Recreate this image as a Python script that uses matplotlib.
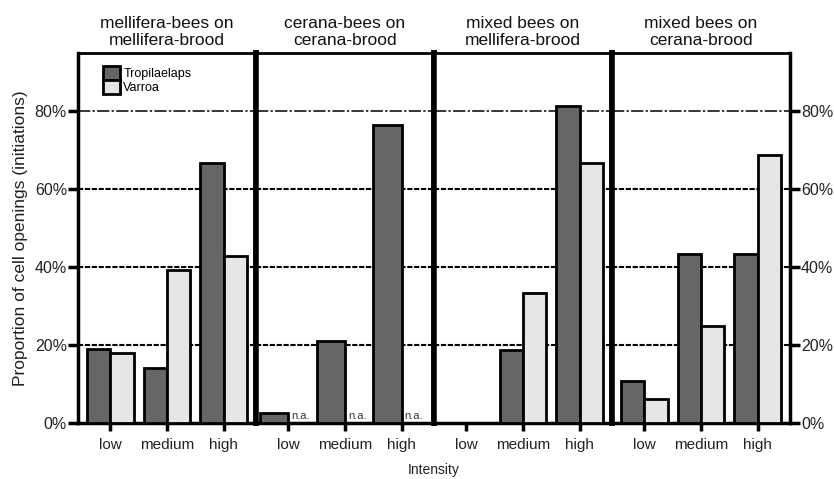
import matplotlib
matplotlib.use("Agg")
import matplotlib.pyplot as plt
from matplotlib.patches import Patch
import numpy as np

plt.rcParams['font.family'] = ['Liberation Sans', 'DejaVu Sans']

panels = ["mellifera-bees on\nmellifera-brood", "cerana-bees on\ncerana-brood",
          "mixed bees on\nmellifera-brood", "mixed bees on\ncerana-brood"]
categories = ["low", "medium", "high"]
tropilaelaps = [[18.9, 14.1, 66.8], [2.5, 21.1, 76.4], [0.0, 18.8, 81.5], [10.8, 43.4, 43.4]]
varroa = [[17.9, 39.3, 42.9], [None, None, None], [0.0, 33.3, 66.8], [6.2, 25.0, 68.9]]
yticks = [0, 20, 40, 60, 80]
ytick_labels = ["0%", "20%", "40%", "60%", "80%"]

dark = "#666666"
light = "#e6e6e6"

fig = plt.figure(figsize=(8.34, 4.79), dpi=100)
left, right, top, bottom = 78/834, 790/834, 1-53/479, 1-423/479
axes = []
w_total = right - left
for i in range(4):
    ax = fig.add_axes([left + i*w_total/4, bottom, w_total/4, top-bottom])
    axes.append(ax)

x = np.arange(len(categories))
for i, ax in enumerate(axes):
    ax.set_xlim(-0.57, 2.57)
    ax.set_ylim(0, 95)
    for yv in yticks[1:]:
        ls = (0, (8, 1.5, 1.5, 1.5)) if yv == 80 else (0, (2.5, 0.8))
        lw = 1.1 if yv == 80 else 1.5
        ax.axhline(yv, color="black", lw=lw, ls=ls, zorder=1)
    na = all(v is None for v in varroa[i])
    bw = 0.5 if na else 0.41
    for j in range(len(categories)):
        t = tropilaelaps[i][j]
        if t:
            ax.bar(x[j], t, width=bw, align="edge", color=dark, edgecolor="black",
                   lw=2, zorder=3)
            ax.patches[-1].set_x(x[j]-bw)
        v = varroa[i][j]
        if v is None:
            ax.text(x[j]+0.05, 0.6, "n.a.", fontsize=8, color="#333333",
                    ha="left", va="bottom", zorder=4)
        elif v:
            ax.bar(x[j], v, width=bw, align="edge", color=light, edgecolor="black",
                   lw=2, zorder=3)
    ax.set_xticks(x)
    ax.set_xticklabels(categories, fontsize=11, color="#222222")
    ax.tick_params(axis="x", direction="out", length=6, width=2.5, pad=5)
    ax.set_title(panels[i], fontsize=12.5, pad=6, color="#111111", linespacing=1.1)
    for s in ax.spines.values():
        s.set_linewidth(2.5)
    ax.spines["top"].set_linewidth(2)
    if i > 0:
        ax.spines["left"].set_linewidth(4)
    if i < 3:
        ax.spines["right"].set_linewidth(4)
    if i == 0:
        ax.set_yticks(yticks)
        ax.set_yticklabels(ytick_labels, fontsize=11.5, color="#222222")
        ax.tick_params(axis="y", direction="out", length=7, width=2.5, pad=1)
        ax.set_ylabel("Proportion of cell openings (initiations)", fontsize=12.5,
                      color="#222222", labelpad=5)
    elif i == 3:
        ax.yaxis.tick_right()
        ax.set_yticks(yticks)
        ax.set_yticklabels(ytick_labels, fontsize=11.5, color="#222222")
        ax.tick_params(axis="y", direction="out", length=7, width=2.5, pad=1)
    else:
        ax.set_yticks([])

handles = [Patch(facecolor=dark, edgecolor="black", lw=2, label="Tropilaelaps"),
           Patch(facecolor=light, edgecolor="black", lw=2, label="Varroa")]
axes[0].legend(handles=handles, loc="upper left", bbox_to_anchor=(0.1, 0.985),
               frameon=False, prop={"size": 9}, handlelength=1.3, handleheight=1.35,
               labelspacing=0.0, handletextpad=0.3, borderaxespad=0.2)

fig.text((left+right)/2, 1-470/479, "Intensity", fontsize=10, ha="center", va="center",
         color="#222222")

fig.savefig("out.png", dpi=100)
